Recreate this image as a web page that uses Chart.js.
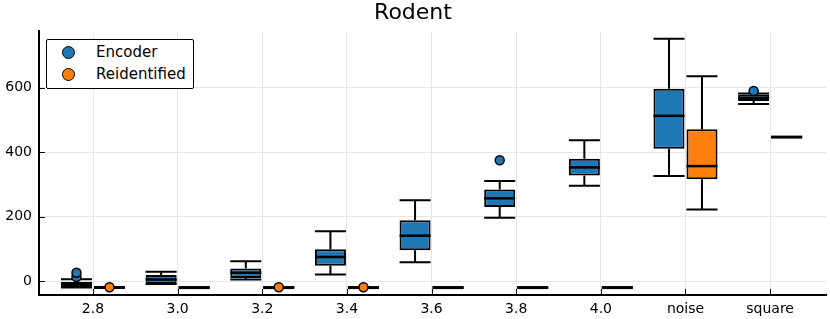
<!DOCTYPE html>
<html>
<head>
<meta charset="utf-8">
<script src="https://cdn.jsdelivr.net/npm/chart.js@4/dist/chart.umd.min.js"></script>
<style>
    body { margin: 0; background: #ffffff; }
    #wrap { position: relative; width: 830px; height: 319px; }
    #legendBox {
        position: absolute; left: 46px; top: 39px; width: 146px; height: 48px;
        border: 1.5px solid #000; border-radius: 2px; background: #fff;
        font-family: "DejaVu Sans", sans-serif; font-size: 15px; color: #000;
    }
    .legend-item { position: absolute; left: 15px; height: 22px; display: flex; align-items: center; }
    .legend-dot { width: 11px; height: 11px; border: 1.5px solid #000; border-radius: 50%; margin-right: 21px; }
</style>
</head>
<body>
<div id="wrap">
    <canvas id="chartBox"></canvas>
    <div id="legendBox"></div>
</div>
<script>
// =====================================
// DATA
// =====================================

const categories = ["2.8", "3.0", "3.2", "3.4", "3.6", "3.8", "4.0", "noise", "square"];
const yTicks = [0, 200, 400, 600];

const seriesNames = ["Encoder", "Reidentified"];
const seriesColors = ["#1f77b4", "#ff7f0e"];

// [lower whisker, q1, median, q3, upper whisker]
const encoderStats = [
    [-20, -19, -11, -3, 6],
    [-9, -9, 5, 19, 29],
    [5, 10, 26, 39, 62],
    [21, 48, 75, 99, 155],
    [59, 96, 141, 189, 251],
    [197, 230, 257, 284, 311],
    [296, 328, 353, 380, 437],
    [326, 411, 513, 597, 752],
    [550, 559, 569, 579, 582]
];
const encoderOutliers = [[13, 26], [], [], [], [], [375], [], [], [590]];

const reidStats = [
    [-20, -20, -20, -20, -20],
    [-20, -20, -20, -20, -20],
    [-20, -20, -20, -20, -20],
    [-20, -20, -20, -20, -20],
    [-20, -20, -20, -20, -20],
    [-20, -20, -20, -20, -20],
    [-20, -20, -20, -20, -20],
    [222, 316, 357, 471, 636],
    [447, 447, 447, 447, 447]
];
const reidOutliers = [[-19], [], [-19], [-19], [], [], [], [], []];

const allStats = [encoderStats, reidStats];
const allOutliers = [encoderOutliers, reidOutliers];

// =====================================
// BOX PLOT PLUGIN (whiskers, medians, outliers)
// =====================================

const boxPlugin = {
    id: "boxExtras",
    beforeDatasetsDraw(chart) {
        const ctx = chart.ctx;
        const y = chart.scales.y;
        ctx.save();
        ctx.strokeStyle = "#000";
        ctx.lineWidth = 2;
        allStats.forEach((stats, d) => {
            chart.getDatasetMeta(d).data.forEach((bar, j) => {
                const s = stats[j];
                const half = bar.width / 2;
                ctx.beginPath();
                ctx.moveTo(bar.x, y.getPixelForValue(s[4]));
                ctx.lineTo(bar.x, y.getPixelForValue(s[3]));
                ctx.moveTo(bar.x, y.getPixelForValue(s[1]));
                ctx.lineTo(bar.x, y.getPixelForValue(s[0]));
                ctx.moveTo(bar.x - half, y.getPixelForValue(s[4]));
                ctx.lineTo(bar.x + half, y.getPixelForValue(s[4]));
                ctx.moveTo(bar.x - half, y.getPixelForValue(s[0]));
                ctx.lineTo(bar.x + half, y.getPixelForValue(s[0]));
                ctx.stroke();
            });
        });
        ctx.restore();
    },
    afterDatasetsDraw(chart) {
        const ctx = chart.ctx;
        const y = chart.scales.y;
        ctx.save();
        allStats.forEach((stats, d) => {
            chart.getDatasetMeta(d).data.forEach((bar, j) => {
                const s = stats[j];
                const half = bar.width / 2;
                ctx.strokeStyle = "#000";
                ctx.lineWidth = (s[1] === s[3]) ? 3 : 2.5;
                ctx.beginPath();
                ctx.moveTo(bar.x - half, y.getPixelForValue(s[2]));
                ctx.lineTo(bar.x + half, y.getPixelForValue(s[2]));
                ctx.stroke();

                allOutliers[d][j].forEach(v => {
                    ctx.beginPath();
                    ctx.arc(bar.x, y.getPixelForValue(v), 4.5, 0, Math.PI * 2);
                    ctx.fillStyle = seriesColors[d];
                    ctx.fill();
                    ctx.lineWidth = 1.5;
                    ctx.stroke();
                });
            });
        });
        ctx.restore();
    },
    afterDraw(chart) {
        // tick marks inside the plot
        const ctx = chart.ctx;
        const area = chart.chartArea;
        const x = chart.scales.x;
        const y = chart.scales.y;
        ctx.save();
        ctx.strokeStyle = "#000";
        ctx.lineWidth = 1;
        ctx.beginPath();
        yTicks.forEach(v => {
            const py = Math.round(y.getPixelForValue(v)) + 0.5;
            ctx.moveTo(area.left, py);
            ctx.lineTo(area.left + 6, py);
        });
        categories.forEach((c, i) => {
            const px = Math.round(x.getPixelForValue(i)) + 0.5;
            ctx.moveTo(px, area.bottom);
            ctx.lineTo(px, area.bottom - 6);
        });
        ctx.stroke();
        ctx.restore();
    }
};

// =====================================
// CHART
// =====================================

const datasets = allStats.map((stats, d) => ({
    label: seriesNames[d],
    data: stats.map((s, i) => ({ x: i, y: [s[1], s[3]] })),
    backgroundColor: seriesColors[d],
    borderColor: "#000",
    borderWidth: 2,
    borderSkipped: false,
    categoryPercentage: 0.78,
    barPercentage: 0.94
}));

const boxChart = new Chart(document.getElementById("chartBox"), {
    type: "bar",
    data: { datasets: datasets },
    plugins: [boxPlugin],
    options: {
        responsive: true,
        maintainAspectRatio: false,
        animation: false,
        layout: { padding: { left: 0, right: 4, top: 0, bottom: 0 } },
        plugins: {
            legend: { display: false },
            tooltip: { enabled: false },
            title: {
                display: true,
                text: "Rodent",
                color: "#000",
                font: { family: "DejaVu Sans", size: 22, weight: "normal" },
                padding: { top: 0, bottom: 5 }
            }
        },
        scales: {
            x: {
                type: "linear",
                min: -0.638,
                max: 8.66,
                offset: false,
                afterBuildTicks: axis => {
                    axis.ticks = categories.map((c, i) => ({ value: i }));
                },
                afterFit: scale => { scale.height = 24; },
                ticks: {
                    autoSkip: false,
                    maxRotation: 0,
                    padding: 6,
                    color: "#000",
                    font: { family: "DejaVu Sans", size: 14 },
                    callback: v => categories[v]
                },
                grid: { color: "#e6e6e6", lineWidth: 1, drawTicks: false, offset: false },
                border: { display: true, color: "#000", width: 2 }
            },
            y: {
                min: -43,
                max: 775,
                afterBuildTicks: axis => {
                    axis.ticks = yTicks.map(v => ({ value: v }));
                },
                afterFit: scale => { scale.width = 39; },
                ticks: {
                    padding: 7,
                    color: "#000",
                    font: { family: "DejaVu Sans", size: 14 },
                    callback: v => String(v)
                },
                grid: { color: "#e6e6e6", lineWidth: 1, drawTicks: false },
                border: { display: true, color: "#000", width: 2 }
            }
        }
    }
});

// =====================================
// LEGEND
// =====================================

const legendBox = document.getElementById("legendBox");
seriesNames.forEach((name, i) => {
    legendBox.innerHTML += `
        <div class="legend-item" style="top:${1 + i * 22}px">
            <span class="legend-dot" style="background:${seriesColors[i]}"></span>
            <span>${name}</span>
        </div>`;
});
</script>
</body>
</html>
